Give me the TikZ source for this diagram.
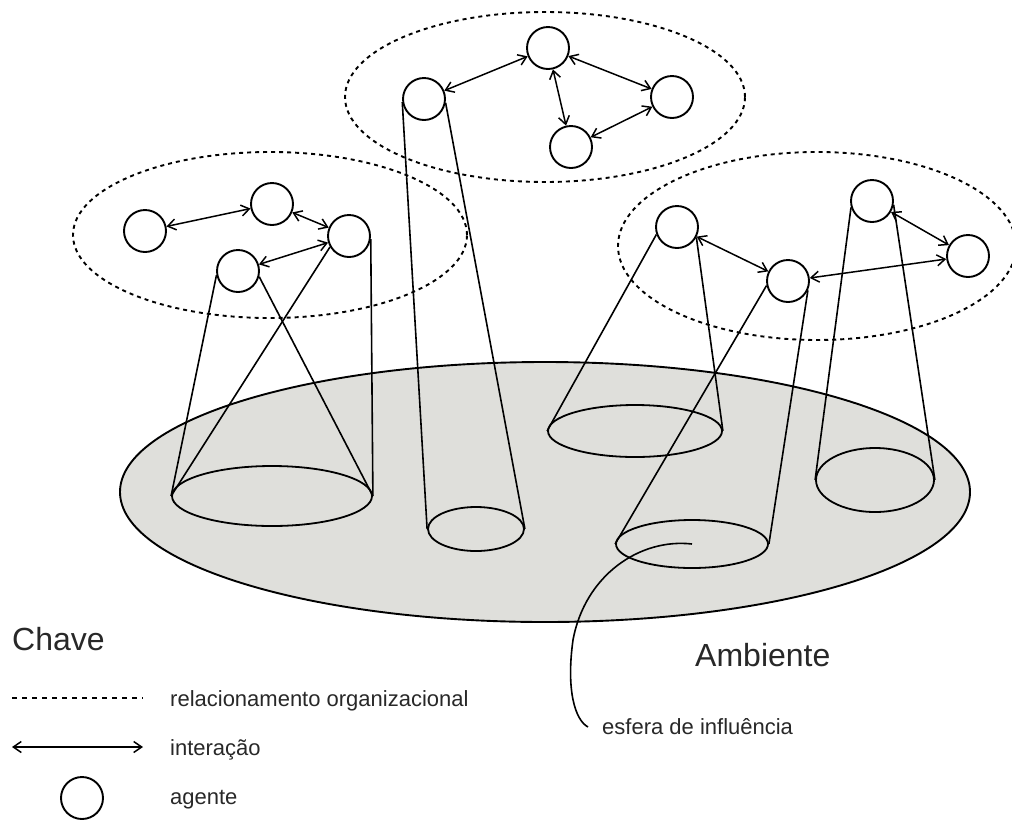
\documentclass[tikz,border=0pt]{standalone}
\usepackage{fontspec}
\setmainfont{Liberation Sans}
\usetikzlibrary{arrows.meta,shapes.geometric}
\definecolor{ground}{RGB}{223,223,219}
\definecolor{txt}{RGB}{40,40,40}
\begin{document}
\begin{tikzpicture}[x=1pt,y=-1pt,
  agent/.style={circle,draw,fill=white,line width=1.9pt,minimum size=42pt,inner sep=0pt},
  basebox/.style={ellipse,draw,line width=1.8pt,inner sep=0pt},
  orgbox/.style={ellipse,draw,line width=1.9pt,dash pattern=on 4pt off 4pt,inner sep=0pt},
  infl/.style={line width=1.6pt},
  inter/.style={line width=1.5pt,{Straight Barb[length=8pt,width=11pt]}-{Straight Barb[length=8pt,width=11pt]}},
  orgline/.style={line width=1.8pt,dash pattern=on 5pt off 5pt},
  lbl/.style={text=txt,font=\fontsize{22}{26}\selectfont,anchor=base west,inner sep=0pt},
  bigl/.style={text=txt,font=\fontsize{32}{38}\selectfont,anchor=base west,inner sep=0pt}]
\useasboundingbox (0,0) rectangle (1012,820);

% environment
\node[ellipse,draw,fill=ground,line width=1.9pt,minimum width=850pt,minimum height=260pt,inner sep=0pt] (G) at (545,492) {};

% organisations
\node[orgbox,minimum width=394pt,minimum height=166pt] (O1) at (270,235) {};
\node[orgbox,minimum width=400pt,minimum height=170pt] (O2) at (545,97) {};
\node[orgbox,minimum width=398pt,minimum height=188pt] (O3) at (817,246) {};

% bases of spheres of influence
\node[basebox,minimum width=200pt,minimum height=60pt] (B1) at (272,496) {};
\node[basebox,minimum width=96pt,minimum height=44pt] (B2) at (476,529) {};
\node[basebox,minimum width=174pt,minimum height=52pt] (B3) at (635,431) {};
\node[basebox,minimum width=152pt,minimum height=48pt] (B4) at (692,544) {};
\node[basebox,minimum width=118pt,minimum height=64pt] (B5) at (875,480) {};

% agents
\node[agent] (A1) at (145,231) {};
\node[agent] (A2) at (272,204) {};
\node[agent] (A3) at (349,236) {};
\node[agent] (A4) at (238,271) {};
\node[agent] (T1) at (424,99) {};
\node[agent] (T2) at (548,48) {};
\node[agent] (T3) at (672,97) {};
\node[agent] (T4) at (571,147) {};
\node[agent] (R1) at (677,227) {};
\node[agent] (R2) at (788,281) {};
\node[agent] (R3) at (872,201) {};
\node[agent] (R4) at (968,256) {};

% spheres of influence
\draw[infl] (A4.191) -- (B1.west);
\draw[infl] (A4.345) -- (B1.east);
\draw[infl] (A3.352) -- (B1.east);
\draw[infl] (A3.210) -- (B1.west);
\draw[infl] (T1.188) -- (B2.west);
\draw[infl] (T1.350) -- (B2.east);
\draw[infl] (R1.200) -- (B3.west);
\draw[infl] (R1.332) -- (B3.east);
\draw[infl] (R2.192) -- (B4.west);
\draw[infl] (R2.335) -- (B4.east);
\draw[infl] (R3.197) -- (B5.west);
\draw[infl] (R3.350) -- (B5.east);

% interactions
\draw[inter] (A1) -- (A2);
\draw[inter] (A2) -- (A3);
\draw[inter] (A3) -- (A4);
\draw[inter] (T1) -- (T2);
\draw[inter] (T2) -- (T3);
\draw[inter] (T2) -- (T4);
\draw[inter] (T4) -- (T3);
\draw[inter] (R1) -- (R2);
\draw[inter] (R2) -- (R4);
\draw[inter] (R3) -- (R4);

% labels
\node[bigl] (amb) at (695,666) {Ambiente};
\node[lbl] (esf) at (602,734) {esfera de influência};
\coordinate (s0) at (692,544);
\coordinate (s1) at (588,727);
\draw[infl] (s0) .. controls (640,538) and (585,575) .. (573,640) .. controls (566,690) and (575,720) .. (s1);

% key
\node[bigl] (chave) at (12,650) {Chave};
\coordinate (d1) at (12,698);
\coordinate (d2) at (143,698);
\draw[orgline] (d1) -- (d2);
\node[lbl] (k1) at (170,706) {relacionamento organizacional};
\coordinate (i1) at (12,747);
\coordinate (i2) at (143,747);
\draw[inter] (i1) -- (i2);
\node[lbl] (k2) at (170,755) {interação};
\node[agent] (ka) at (82,798) {};
\node[lbl] (k3) at (170,804) {agente};
\end{tikzpicture}
\end{document}
